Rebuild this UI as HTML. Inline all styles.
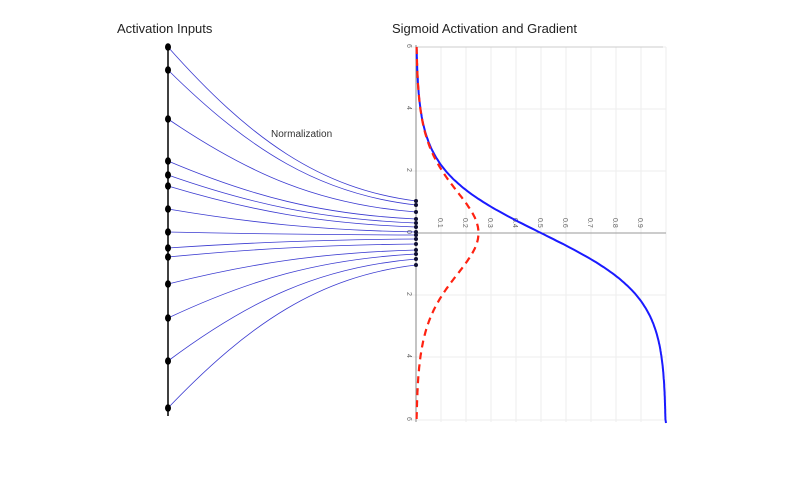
<!DOCTYPE html>
<html><head><meta charset="utf-8"><style>
body{margin:0;background:#fff;width:800px;height:479px;overflow:hidden}
text{font-family:"Liberation Sans",sans-serif}
</style></head><body>
<svg id="s" width="800" height="479" xmlns="http://www.w3.org/2000/svg">
<text x="117" y="33" font-size="13" fill="#222">Activation Inputs</text>
<text x="392" y="33" font-size="13" fill="#222">Sigmoid Activation and Gradient</text>
<text x="271" y="137" font-size="10" fill="#333">Normalization</text>
<g id="grid" stroke="#ededed" stroke-width="1"></g>
<line x1="416" y1="47" x2="663" y2="47" stroke="#ccc"/>
<line x1="416" y1="233" x2="666" y2="233" stroke="#999"/>
<line x1="416" y1="45" x2="416" y2="422" stroke="#888"/>
<g id="lbl" font-size="7" fill="#666"></g>
<line x1="168" y1="44" x2="168" y2="416" stroke="#000" stroke-width="1.5"/>
<g id="lines" fill="none" stroke="#3a3ad0" stroke-width="0.8"></g>
<g id="dots"></g>
<path id="blue" fill="none" stroke="#1a1aff" stroke-width="2"/>
<path id="red" fill="none" stroke="#f21" stroke-width="2.2" stroke-dasharray="7,5"/>
</svg>
<script>
var ns="http://www.w3.org/2000/svg",g=function(id){return document.getElementById(id)};
function el(p,t,a){var e=document.createElementNS(ns,t);for(var k in a)e.setAttribute(k,a[k]);p.appendChild(e);return e}
for(var i=1;i<=10;i++){var x=416+25*i;el(g('grid'),'line',{x1:x,y1:47,x2:x,y2:422});
 if(i<10){var t=el(g('lbl'),'text',{x:0,y:0,transform:'translate('+(x-3)+',218) rotate(90)'});t.textContent='0.'+i;}}
[47,109,171,295,357,420].forEach(function(y,j){el(g('grid'),'line',{x1:410,y1:y,x2:666,y2:y});
 var t=el(g('lbl'),'text',{x:0,y:0,transform:'translate(407,'+(y-3)+') rotate(90)'});t.textContent=['6','4','2','2','4','6'][j];});
var t=el(g('lbl'),'text',{x:0,y:0,transform:'translate(407,230) rotate(90)'});t.textContent='0';
var b='',r='';
for(var k=0;k<=240;k++){var tt=-6+12*k/240,s=1/(1+Math.exp(-tt)),y=233+31*tt;
 b+=(k?'L':'M')+(416+250*s).toFixed(1)+','+y.toFixed(1);
 r+=(k?'L':'M')+(416+250*s*(1-s)).toFixed(1)+','+y.toFixed(1);}
g('blue').setAttribute('d',b+'L666,423');g('red').setAttribute('d',r);
var y0=[47,70,119,161,175,186,209,232,248,257,284,318,361,408],
y1=[201,205,212,219,223,227,232,235,239,244,250,254,259,265];
for(var i=0;i<14;i++){
 el(g('lines'),'path',{d:'M168,'+y0[i]+' C250,'+(y0[i]+(y1[i]-y0[i])*0.6)+' 320,'+(y1[i]+(y0[i]-y1[i])*0.08)+' 416,'+y1[i]});
 el(g('dots'),'ellipse',{cx:168,cy:y0[i],rx:3,ry:3.8,fill:'#000'});
 el(g('dots'),'circle',{cx:416,cy:y1[i],r:2,fill:'#113'});}
</script>
</body></html>
